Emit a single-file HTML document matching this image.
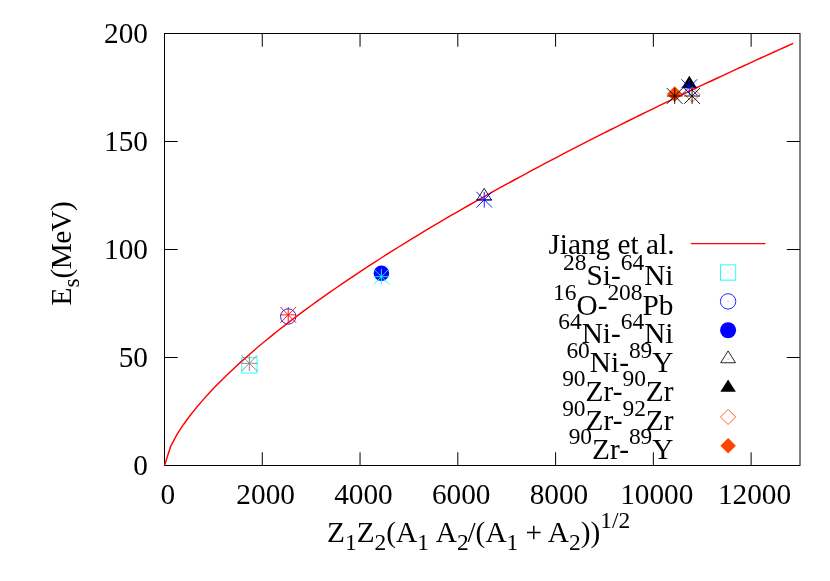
<!DOCTYPE html>
<html><head><meta charset="utf-8"><title>plot</title>
<style>
html,body{margin:0;padding:0;background:#fff;}
svg{display:block;will-change:transform;opacity:0.999}
text{font-family:"Liberation Serif",serif;font-size:29.3px;fill:#000}
.sup{font-size:23.44px}
</style></head><body>
<svg width="830" height="581" viewBox="0 0 830 581">
<rect width="830" height="581" fill="#fff"/>
<g stroke="#000" stroke-width="1" fill="none"><rect x="164.5" y="33.5" width="635.5" height="432.0"/><path d="M164.50 465.5 V452.3 M164.50 33.5 V46.7"/><path d="M262.27 465.5 V452.3 M262.27 33.5 V46.7"/><path d="M360.04 465.5 V452.3 M360.04 33.5 V46.7"/><path d="M457.81 465.5 V452.3 M457.81 33.5 V46.7"/><path d="M555.58 465.5 V452.3 M555.58 33.5 V46.7"/><path d="M653.35 465.5 V452.3 M653.35 33.5 V46.7"/><path d="M751.12 465.5 V452.3 M751.12 33.5 V46.7"/><path d="M164.5 465.50 H177.7 M800.0 465.50 H786.8"/><path d="M164.5 357.50 H177.7 M800.0 357.50 H786.8"/><path d="M164.5 249.50 H177.7 M800.0 249.50 H786.8"/><path d="M164.5 141.50 H177.7 M800.0 141.50 H786.8"/><path d="M164.5 33.50 H177.7 M800.0 33.50 H786.8"/></g>
<text x="167.90" y="504" text-anchor="middle">0</text><text x="265.67" y="504" text-anchor="middle">2000</text><text x="363.44" y="504" text-anchor="middle">4000</text><text x="461.21" y="504" text-anchor="middle">6000</text><text x="558.98" y="504" text-anchor="middle">8000</text><text x="656.75" y="504" text-anchor="middle">10000</text><text x="754.52" y="504" text-anchor="middle">12000</text><text x="148" y="475.40" text-anchor="end">0</text><text x="148" y="367.40" text-anchor="end">50</text><text x="148" y="259.40" text-anchor="end">100</text><text x="148" y="151.40" text-anchor="end">150</text><text x="148" y="43.40" text-anchor="end">200</text>
<text x="327" y="542.2">Z<tspan class="sup" dy="8">1</tspan><tspan dy="-8">Z</tspan><tspan class="sup" dy="8">2</tspan><tspan dy="-8">(A</tspan><tspan class="sup" dy="8">1</tspan><tspan dy="-8" dx="1.2"> A</tspan><tspan class="sup" dy="8">2</tspan><tspan dy="-8" dx="-1.2">/(A</tspan><tspan class="sup" dy="8">1</tspan><tspan dy="-8"> + A</tspan><tspan class="sup" dy="8">2</tspan><tspan dy="-8">))</tspan><tspan class="sup" dy="-14.4">1/2</tspan></text>
<text transform="translate(70.8,305.5) rotate(-90)" x="0" y="0">E<tspan class="sup" dy="8.5">s</tspan><tspan dy="-8.5" letter-spacing="-0.6">(MeV)</tspan></text>
<rect x="241.75" y="357.75" width="15.3" height="15.3" stroke="#00ffff" stroke-width="0.85" fill="none"/>
<path d="M249.35 355.40 V371.20 M241.45 363.30 H257.25 M241.45 355.40 L257.25 371.20 M241.45 371.20 L257.25 355.40" stroke="#808080" stroke-width="0.9" fill="none"/>
<circle cx="288.24" cy="316.50" r="7.7" stroke="#0000ff" stroke-width="0.85" fill="none"/>
<path d="M288.24 306.97 V322.77 M280.34 314.87 H296.14 M280.34 306.97 L296.14 322.77 M280.34 322.77 L296.14 306.97" stroke="#ff0000" stroke-width="0.9" fill="none"/>
<circle cx="381.40" cy="273.25" r="7.75" fill="#0000ff"/>
<path d="M381.40 268.76 V284.56 M373.50 276.66 H389.30 M373.50 268.76 L389.30 284.56 M373.50 284.56 L389.30 268.76" stroke="#00ffff" stroke-width="0.9" fill="none"/>
<polyline points="164.50,465.50 170.85,445.78 177.20,434.19 183.55,424.47 189.90,415.80 196.25,407.83 202.60,400.38 208.95,393.33 215.30,386.61 221.65,380.16 228.00,373.95 234.35,367.95 240.70,362.12 247.05,356.46 253.40,350.93 259.75,345.54 266.10,340.27 272.45,335.10 278.80,330.04 285.15,325.06 291.50,320.18 297.85,315.37 304.20,310.65 310.55,305.99 316.90,301.40 323.25,296.87 329.60,292.40 335.95,287.99 342.30,283.64 348.65,279.33 355.00,275.08 361.35,270.87 367.70,266.70 374.05,262.58 380.40,258.50 386.75,254.47 393.10,250.46 399.45,246.50 405.80,242.57 412.15,238.68 418.50,234.82 424.85,230.99 431.20,227.19 437.55,223.42 443.90,219.68 450.25,215.97 456.60,212.29 462.95,208.63 469.30,205.00 475.65,201.40 482.00,197.82 488.35,194.26 494.70,190.73 501.05,187.21 507.40,183.72 513.75,180.26 520.10,176.81 526.45,173.38 532.80,169.98 539.15,166.59 545.50,163.22 551.85,159.87 558.20,156.54 564.55,153.23 570.90,149.93 577.25,146.65 583.60,143.39 589.95,140.15 596.30,136.92 602.65,133.70 609.00,130.50 615.35,127.32 621.70,124.15 628.05,121.00 634.40,117.86 640.75,114.74 647.10,111.62 653.45,108.53 659.80,105.44 666.15,102.37 672.50,99.31 678.86,96.27 685.21,93.24 691.56,90.22 697.91,87.21 704.26,84.21 710.61,81.23 716.96,78.25 723.31,75.29 729.66,72.34 736.01,69.40 742.36,66.47 748.71,63.56 755.06,60.65 761.41,57.75 767.76,54.86 774.11,51.99 780.46,49.12 786.81,46.26 793.16,43.42" fill="none" stroke="#ff0000" stroke-width="1.45" stroke-linejoin="round"/>
<path d="M476.80 200.15 L484.20 188.35 L491.60 200.15 Z" stroke="#000000" stroke-width="0.85" fill="none"/>
<path d="M484.24 191.80 V207.60 M476.34 199.70 H492.14 M476.34 191.80 L492.14 207.60 M476.34 207.60 L492.14 191.80" stroke="#0000ff" stroke-width="0.9" fill="none"/>
<path d="M681.55 88.20 L689.30 75.80 L697.05 88.20 Z" fill="#000000"/>
<path d="M689.30 79.30 V95.10 M681.40 87.20 H697.20 M681.40 79.30 L697.20 95.10 M681.40 95.10 L697.20 79.30" stroke="#0000ff" stroke-width="0.9" fill="none"/>
<path d="M684.70 94.60 L692.30 87.00 L699.90 94.60 L692.30 102.20 Z" stroke="#ff4500" stroke-width="0.85" fill="none"/>
<path d="M692.10 88.10 V103.90 M684.20 96.00 H700.00 M684.20 88.10 L700.00 103.90 M684.20 103.90 L700.00 88.10" stroke="#000000" stroke-width="0.9" fill="none"/>
<path d="M666.95 94.00 L674.70 86.25 L682.45 94.00 L674.70 101.75 Z" fill="#ff4500"/>
<path d="M674.70 88.10 V103.90 M666.80 96.00 H682.60 M666.80 88.10 L682.60 103.90 M666.80 103.90 L682.60 88.10" stroke="#000000" stroke-width="0.9" fill="none"/>
<path d="M690.9 243.6 H765.5" stroke="#ff0000" stroke-width="1.45"/><rect x="720.45" y="264.84" width="15.3" height="15.3" stroke="#00ffff" stroke-width="0.85" fill="none"/><circle cx="728.10" cy="301.38" r="7.7" stroke="#0000ff" stroke-width="0.85" fill="none"/><circle cx="728.10" cy="330.27" r="8.0" fill="#0000ff"/><path d="M720.70 362.76 L728.10 350.96 L735.50 362.76 Z" stroke="#000000" stroke-width="0.85" fill="none"/><path d="M720.35 391.80 L728.10 379.40 L735.85 391.80 Z" fill="#000000"/><path d="M720.50 416.94 L728.10 409.34 L735.70 416.94 L728.10 424.54 Z" stroke="#ff4500" stroke-width="0.85" fill="none"/><path d="M720.35 445.83 L728.10 438.08 L735.85 445.83 L728.10 453.58 Z" fill="#ff4500"/><rect x="727.60" y="271.99" width="1" height="1" fill="#00ffff" opacity="0.45"/><rect x="727.60" y="300.88" width="1" height="1" fill="#0000ff" opacity="0.45"/><rect x="727.60" y="358.66" width="1" height="1" fill="#000000" opacity="0.45"/><rect x="727.60" y="416.44" width="1" height="1" fill="#ff4500" opacity="0.45"/>
<text x="674.5" y="253.6" text-anchor="end">Jiang et al.</text><text x="673.5" y="284.59" text-anchor="end"><tspan class="sup" dy="-14.5">28</tspan><tspan dy="14.5">Si-</tspan><tspan class="sup" dy="-14.5">64</tspan><tspan dy="14.5">Ni</tspan></text><text x="673.5" y="314.68" text-anchor="end"><tspan class="sup" dy="-14.5">16</tspan><tspan dy="14.5">O-</tspan><tspan class="sup" dy="-14.5">208</tspan><tspan dy="14.5">Pb</tspan></text><text x="673.5" y="343.37" text-anchor="end"><tspan class="sup" dy="-14.5">64</tspan><tspan dy="14.5">Ni-</tspan><tspan class="sup" dy="-14.5">64</tspan><tspan dy="14.5">Ni</tspan></text><text x="673.5" y="372.06" text-anchor="end"><tspan class="sup" dy="-14.5">60</tspan><tspan dy="14.5">Ni-</tspan><tspan class="sup" dy="-14.5">89</tspan><tspan dy="14.5">Y</tspan></text><text x="673.5" y="400.75" text-anchor="end"><tspan class="sup" dy="-14.5">90</tspan><tspan dy="14.5">Zr-</tspan><tspan class="sup" dy="-14.5">90</tspan><tspan dy="14.5">Zr</tspan></text><text x="673.5" y="430.04" text-anchor="end"><tspan class="sup" dy="-14.5">90</tspan><tspan dy="14.5">Zr-</tspan><tspan class="sup" dy="-14.5">92</tspan><tspan dy="14.5">Zr</tspan></text><text x="673.5" y="458.73" text-anchor="end"><tspan class="sup" dy="-14.5">90</tspan><tspan dy="14.5">Zr-</tspan><tspan class="sup" dy="-14.5">89</tspan><tspan dy="14.5">Y</tspan></text>
</svg></body></html>
